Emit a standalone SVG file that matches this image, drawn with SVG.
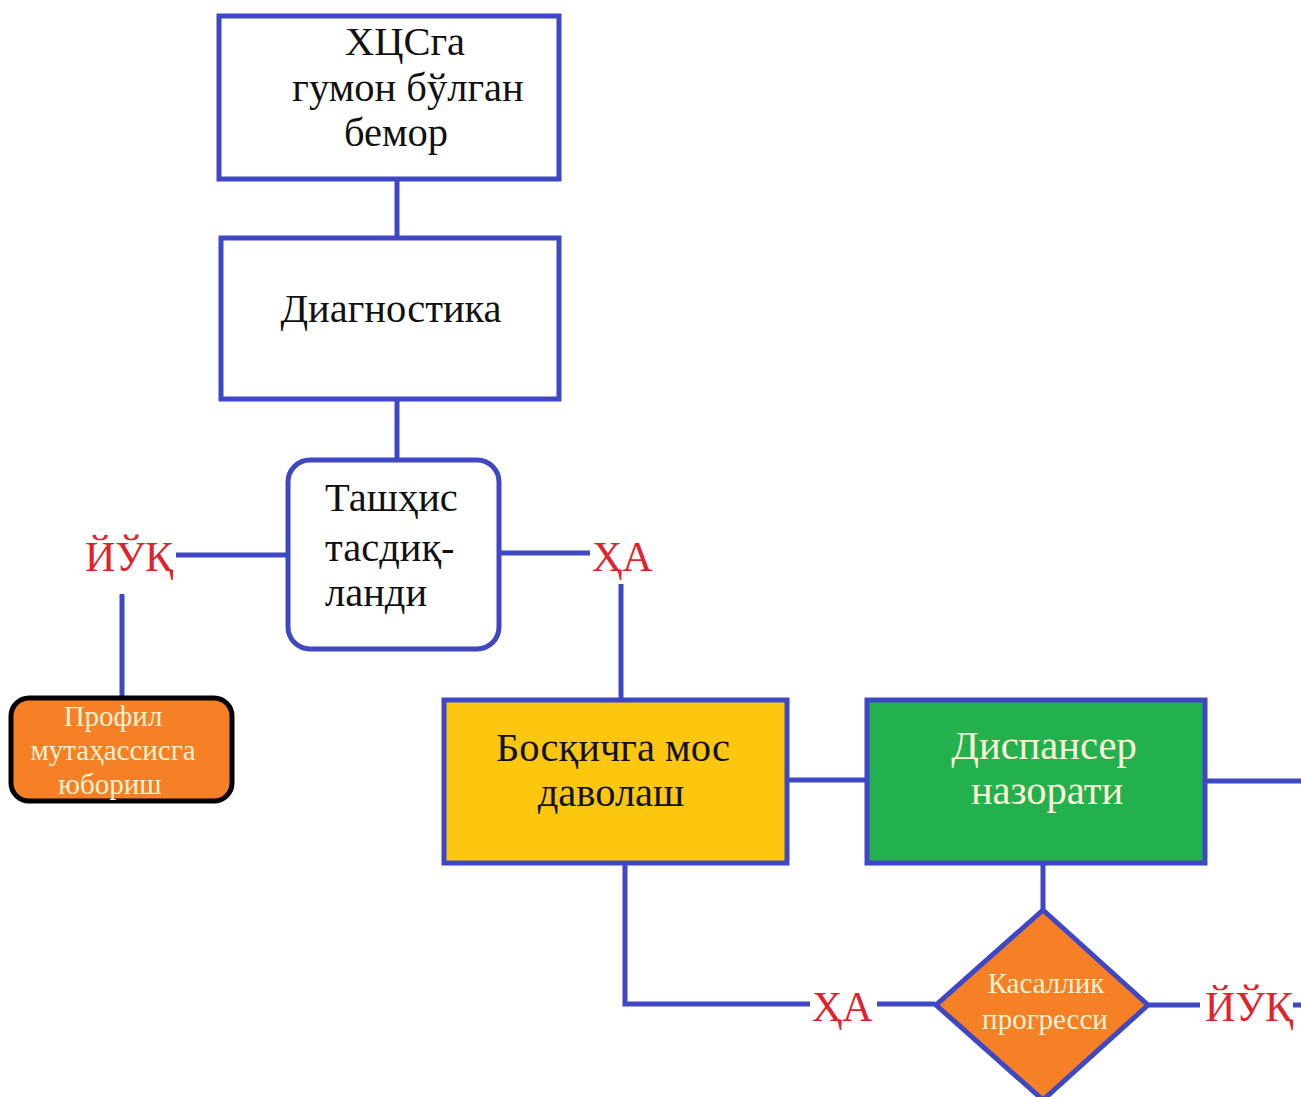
<svg xmlns="http://www.w3.org/2000/svg" width="1301" height="1097" viewBox="0 0 1301 1097">
<style>
.ln{stroke:#3F47C4;stroke-width:5;fill:none}
.box{stroke:#3F47C4;stroke-width:5}
.t{font-family:"Liberation Serif","DejaVu Serif",serif;font-size:40.5px;fill:#111;text-anchor:middle}
.w{fill:#FFF6DA}
.r{font-family:"Liberation Serif","DejaVu Serif",serif;font-size:42px;fill:#E0222A}
.s{font-family:"Liberation Serif","DejaVu Serif",serif;font-size:29px;fill:#FFF3D6;text-anchor:middle}
</style>
<rect width="1301" height="1097" fill="#fff"/>
<g id="connectors">
<line class="ln" x1="397" y1="180" x2="397" y2="237"/>
<line class="ln" x1="397" y1="400" x2="397" y2="460"/>
<line class="ln" x1="176" y1="555" x2="288" y2="555"/>
<line class="ln" x1="499" y1="553" x2="590" y2="553"/>
<line class="ln" x1="621" y1="584" x2="621" y2="699"/>
<line class="ln" x1="122" y1="594" x2="122" y2="697"/>
<line class="ln" x1="787" y1="780" x2="866" y2="780"/>
<line class="ln" x1="1206" y1="781" x2="1301" y2="781"/>
<polyline class="ln" points="625,864 625,1004 810,1004"/>
<line class="ln" x1="877" y1="1004" x2="935" y2="1004"/>
<line class="ln" x1="1043" y1="864" x2="1043" y2="910"/>
<line class="ln" x1="1148" y1="1005" x2="1200" y2="1005"/>
<line class="ln" x1="1293" y1="1005" x2="1301" y2="1005"/>
</g>
<g id="node-patient">
<rect class="box" x="219" y="16" width="340" height="163" fill="#fff"/>
<text class="t" x="405" y="55">ХЦСга</text>
<text class="t" x="408" y="101">гумон бўлган</text>
<text class="t" x="396" y="146">бемор</text>
</g>
<g id="node-diag">
<rect class="box" x="221" y="238" width="338" height="161" fill="#fff"/>
<text class="t" x="391" y="322">Диагностика</text>
</g>
<g id="node-confirmed">
<rect class="box" x="288" y="460" width="211" height="189" rx="22" fill="#fff"/>
<text class="t" x="325" y="511" style="text-anchor:start">Ташҳис</text>
<text class="t" x="325" y="561" style="text-anchor:start">тасдиқ-</text>
<text class="t" x="325" y="606" style="text-anchor:start">ланди</text>
</g>
<g id="label-no1"><text class="r" x="85" y="571">ЙЎҚ</text></g>
<g id="label-yes1"><text class="r" x="592" y="571">ҲА</text></g>
<g id="node-refer">
<rect x="11" y="698" width="221" height="103" rx="18" fill="#F58025" stroke="#000" stroke-width="5"/>
<text class="s" x="113" y="726">Профил</text>
<text class="s" x="113" y="760">мутаҳассисга</text>
<text class="s" x="110" y="794">юбориш</text>
</g>
<g id="node-treat">
<rect class="box" x="444" y="700" width="343" height="163" fill="#FDC70F"/>
<text class="t" x="613" y="761">Босқичга мос</text>
<text class="t" x="611" y="806">даволаш</text>
</g>
<g id="node-dispensary">
<rect class="box" x="867" y="700" width="338" height="163" fill="#22B14C"/>
<text class="t w" x="1044" y="759">Диспансер</text>
<text class="t w" x="1047" y="804">назорати</text>
</g>
<g id="label-yes2"><text class="r" x="812" y="1021">ҲА</text></g>
<g id="node-progress">
<polygon class="box" points="1043,910 1148,1005 1043,1100 936,1005" fill="#F58025"/>
<text class="s" x="1046" y="993">Касаллик</text>
<text class="s" x="1045" y="1029">прогресси</text>
</g>
<g id="label-no2"><text class="r" x="1205" y="1021">ЙЎҚ</text></g>
</svg>
